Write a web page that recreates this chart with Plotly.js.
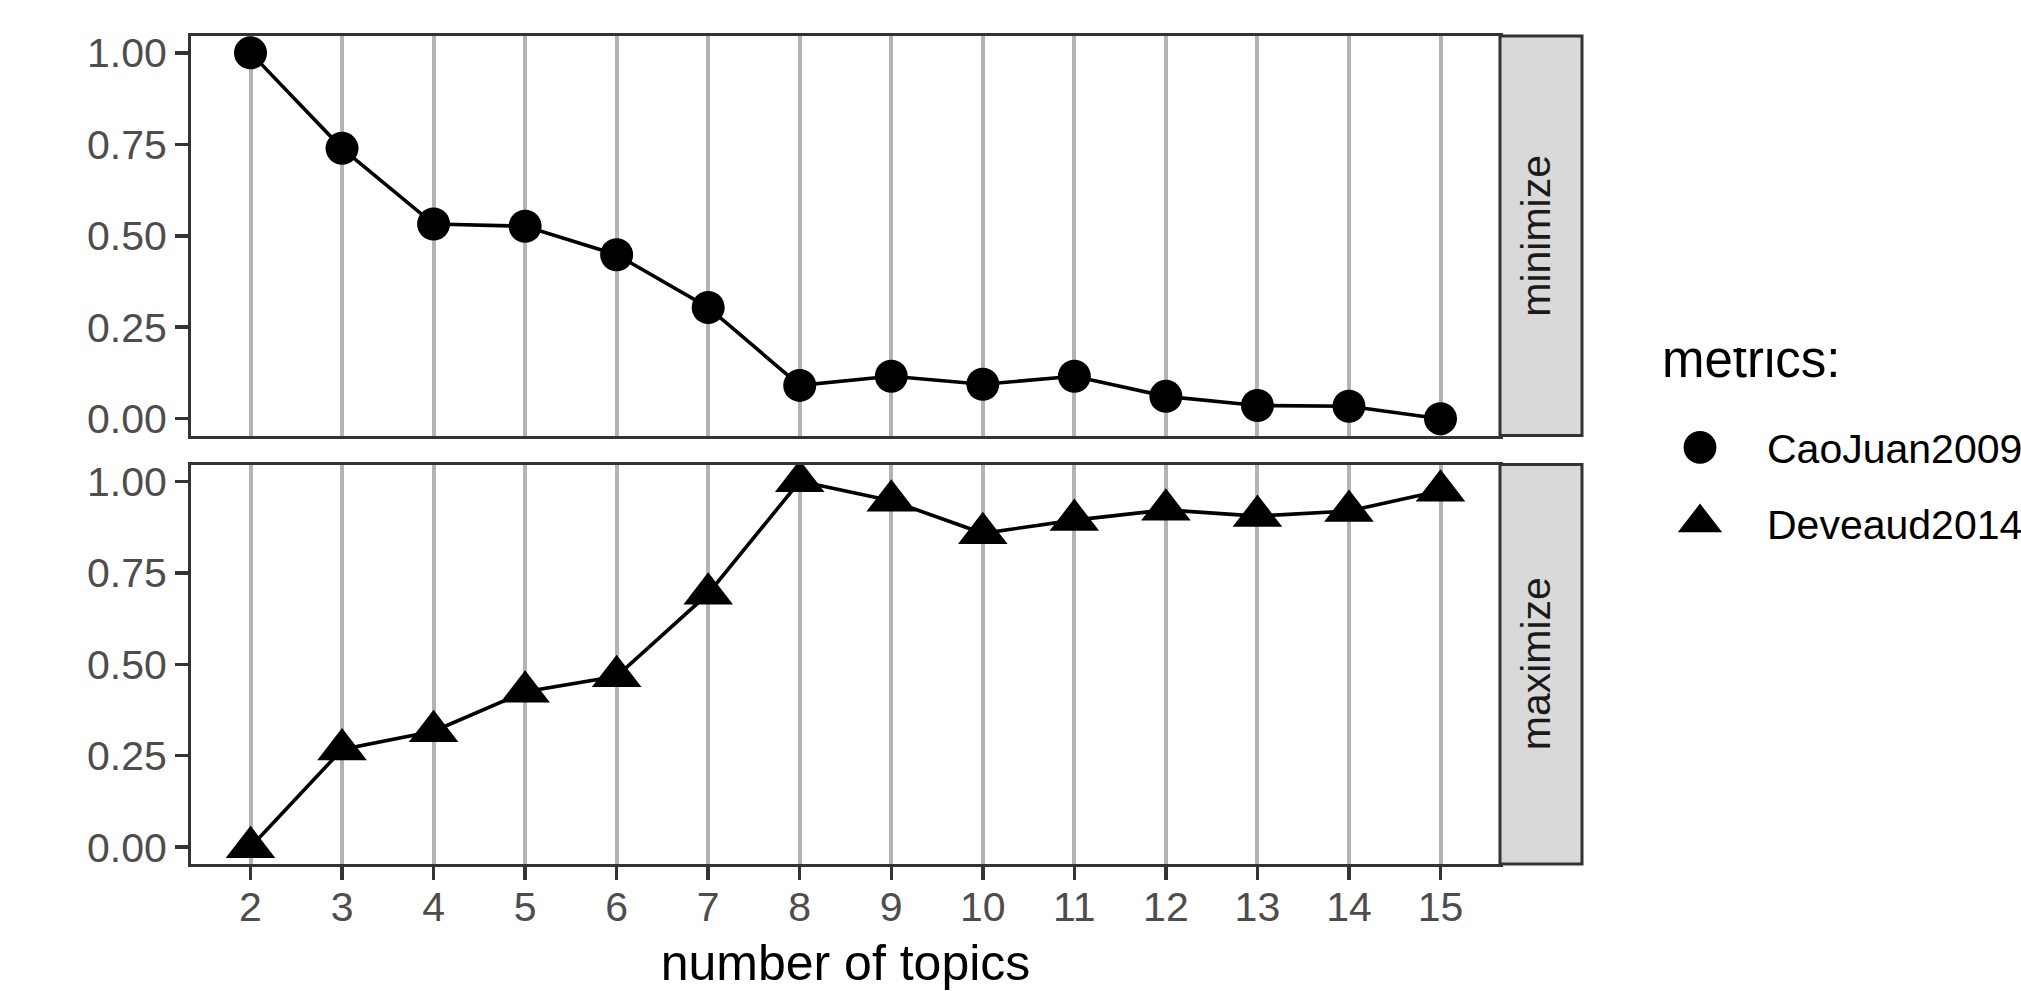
<!DOCTYPE html>
<html>
<head>
<meta charset="utf-8">
<script src="https://cdn.plot.ly/plotly-3.0.1.min.js"></script>
<style>
  html, body { margin: 0; padding: 0; background: #ffffff; }
  #chart { width: 2021px; height: 991px; }
</style>
</head>
<body>
<div id="chart"></div>
<script>
// ---- data ----
const topics = [2, 3, 4, 5, 6, 7, 8, 9, 10, 11, 12, 13, 14, 15];
const caoJuan2009 = [1.00, 0.739, 0.532, 0.526, 0.448, 0.304, 0.091, 0.116, 0.094, 0.116, 0.061, 0.036, 0.034, 0.00];
const deveaud2014 = [0.00, 0.267, 0.317, 0.425, 0.467, 0.693, 1.00, 0.947, 0.858, 0.894, 0.922, 0.905, 0.919, 0.974];
const yTickVals = [0, 0.25, 0.5, 0.75, 1];
const yTickText = ["0.00", "0.25", "0.50", "0.75", "1.00"];
const panelLabels = ["minimize", "maximize"];
const seriesNames = ["CaoJuan2009", "Deveaud2014"];
const legendTitle = "metrics:";
const xTitle = "number of topics";

const FONT = "Liberation Sans, Arial, Helvetica, sans-serif";
const W = 2021, H = 991;
const px = v => v / W;
const py = v => (H - v) / H;

const xDomain = [px(191), px(1500)];
const topDomain = [py(435.5), py(36)];
const botDomain = [py(864), py(464.5)];
const stripX = [px(1500), px(1582)];

const traces = [
  { x: topics, y: caoJuan2009, xaxis: "x", yaxis: "y", mode: "lines",
    line: { color: "#000000", width: 3.6 }, showlegend: false, hoverinfo: "skip" },
  { x: topics, y: caoJuan2009, xaxis: "x", yaxis: "y", mode: "markers", name: seriesNames[0],
    legendgroup: "a", marker: { symbol: "circle", size: 33, color: "#000000" } },
  { x: topics, y: deveaud2014, xaxis: "x2", yaxis: "y2", mode: "lines",
    line: { color: "#000000", width: 3.6 }, showlegend: false, hoverinfo: "skip" },
  { x: topics, y: deveaud2014, xaxis: "x2", yaxis: "y2", mode: "markers", name: seriesNames[1],
    legendgroup: "b", marker: { symbol: "triangle-up", size: 43, color: "#000000" } }
];

const commonX = {
  domain: xDomain, range: [1.35, 15.65], tickmode: "array", tickvals: topics,
  showgrid: true, gridcolor: "#B3B3B3", gridwidth: 4, zeroline: false,
  showline: true, mirror: true, linecolor: "#333333", linewidth: 3,
  fixedrange: true
};
const commonY = {
  range: [-0.046, 1.046], tickmode: "array", tickvals: yTickVals, ticktext: yTickText,
  ticks: "outside", ticklen: 13, tickwidth: 3.5, tickcolor: "#333333",
  tickfont: { family: FONT, size: 41, color: "#4D4D4D" },
  showgrid: false, zeroline: false,
  showline: true, mirror: true, linecolor: "#333333", linewidth: 3,
  fixedrange: true
};

const layout = {
  width: W, height: H,
  margin: { l: 0, r: 0, t: 0, b: 0, autoexpand: false },
  paper_bgcolor: "#ffffff", plot_bgcolor: "#ffffff",
  font: { family: FONT, color: "#000000" },
  xaxis: Object.assign({}, commonX, { anchor: "y", showticklabels: false, ticks: "", matches: "x2" }),
  xaxis2: Object.assign({}, commonX, {
    anchor: "y2", ticks: "outside", ticklen: 13, tickwidth: 3.5, tickcolor: "#333333",
    ticklabelstandoff: -8,
    tickfont: { family: FONT, size: 41, color: "#4D4D4D" },
    title: { text: xTitle, font: { family: FONT, size: 50, color: "#000000" } }
  }),
  yaxis: Object.assign({}, commonY, { domain: topDomain, anchor: "x" }),
  yaxis2: Object.assign({}, commonY, { domain: botDomain, anchor: "x2" }),
  shapes: [
    { type: "rect", xref: "paper", yref: "y domain", x0: stripX[0], x1: stripX[1], y0: 0, y1: 1,
      fillcolor: "#D9D9D9", line: { color: "#333333", width: 3 }, layer: "above" },
    { type: "rect", xref: "paper", yref: "y2 domain", x0: stripX[0], x1: stripX[1], y0: 0, y1: 1,
      fillcolor: "#D9D9D9", line: { color: "#333333", width: 3 }, layer: "above" }
  ],
  annotations: [
    { text: panelLabels[0], xref: "paper", yref: "y domain", x: (stripX[0] + stripX[1]) / 2, y: 0.5,
      xshift: 20, showarrow: false, textangle: -90, font: { family: FONT, size: 41, color: "#1A1A1A" } },
    { text: panelLabels[1], xref: "paper", yref: "y2 domain", x: (stripX[0] + stripX[1]) / 2, y: 0.5,
      xshift: 20, showarrow: false, textangle: -90, font: { family: FONT, size: 41, color: "#1A1A1A" } }
  ],
  legend: {
    x: px(1633), xanchor: "left", y: py(348), yanchor: "top",
    title: { text: legendTitle, font: { family: FONT, size: 51, color: "#000000" } },
    font: { family: FONT, size: 41, color: "#000000" },
    itemwidth: 124, tracegroupgap: 19, bgcolor: "rgba(0,0,0,0)", borderwidth: 0
  },
  showlegend: true,
  hovermode: false
};

Plotly.newPlot("chart", traces, layout, { displayModeBar: false, staticPlot: true }).then(function () {
  // enlarge legend keys to match the plotted marker sizes
  const pts = document.querySelectorAll(".legend .legendpoints path.scatterpts");
  const scales = [2.05, 2.4];
  pts.forEach(function (p, i) {
    const t = p.getAttribute("transform") || "";
    p.setAttribute("transform", t + " scale(" + (scales[i] || 2) + ")");
  });
  // place the legend title as in the reference (above and slightly right of the keys)
  const lt = document.querySelector(".legend .legendtitletext");
  if (lt) lt.setAttribute("transform", "translate(27,-37)");
});
</script>
</body>
</html>
